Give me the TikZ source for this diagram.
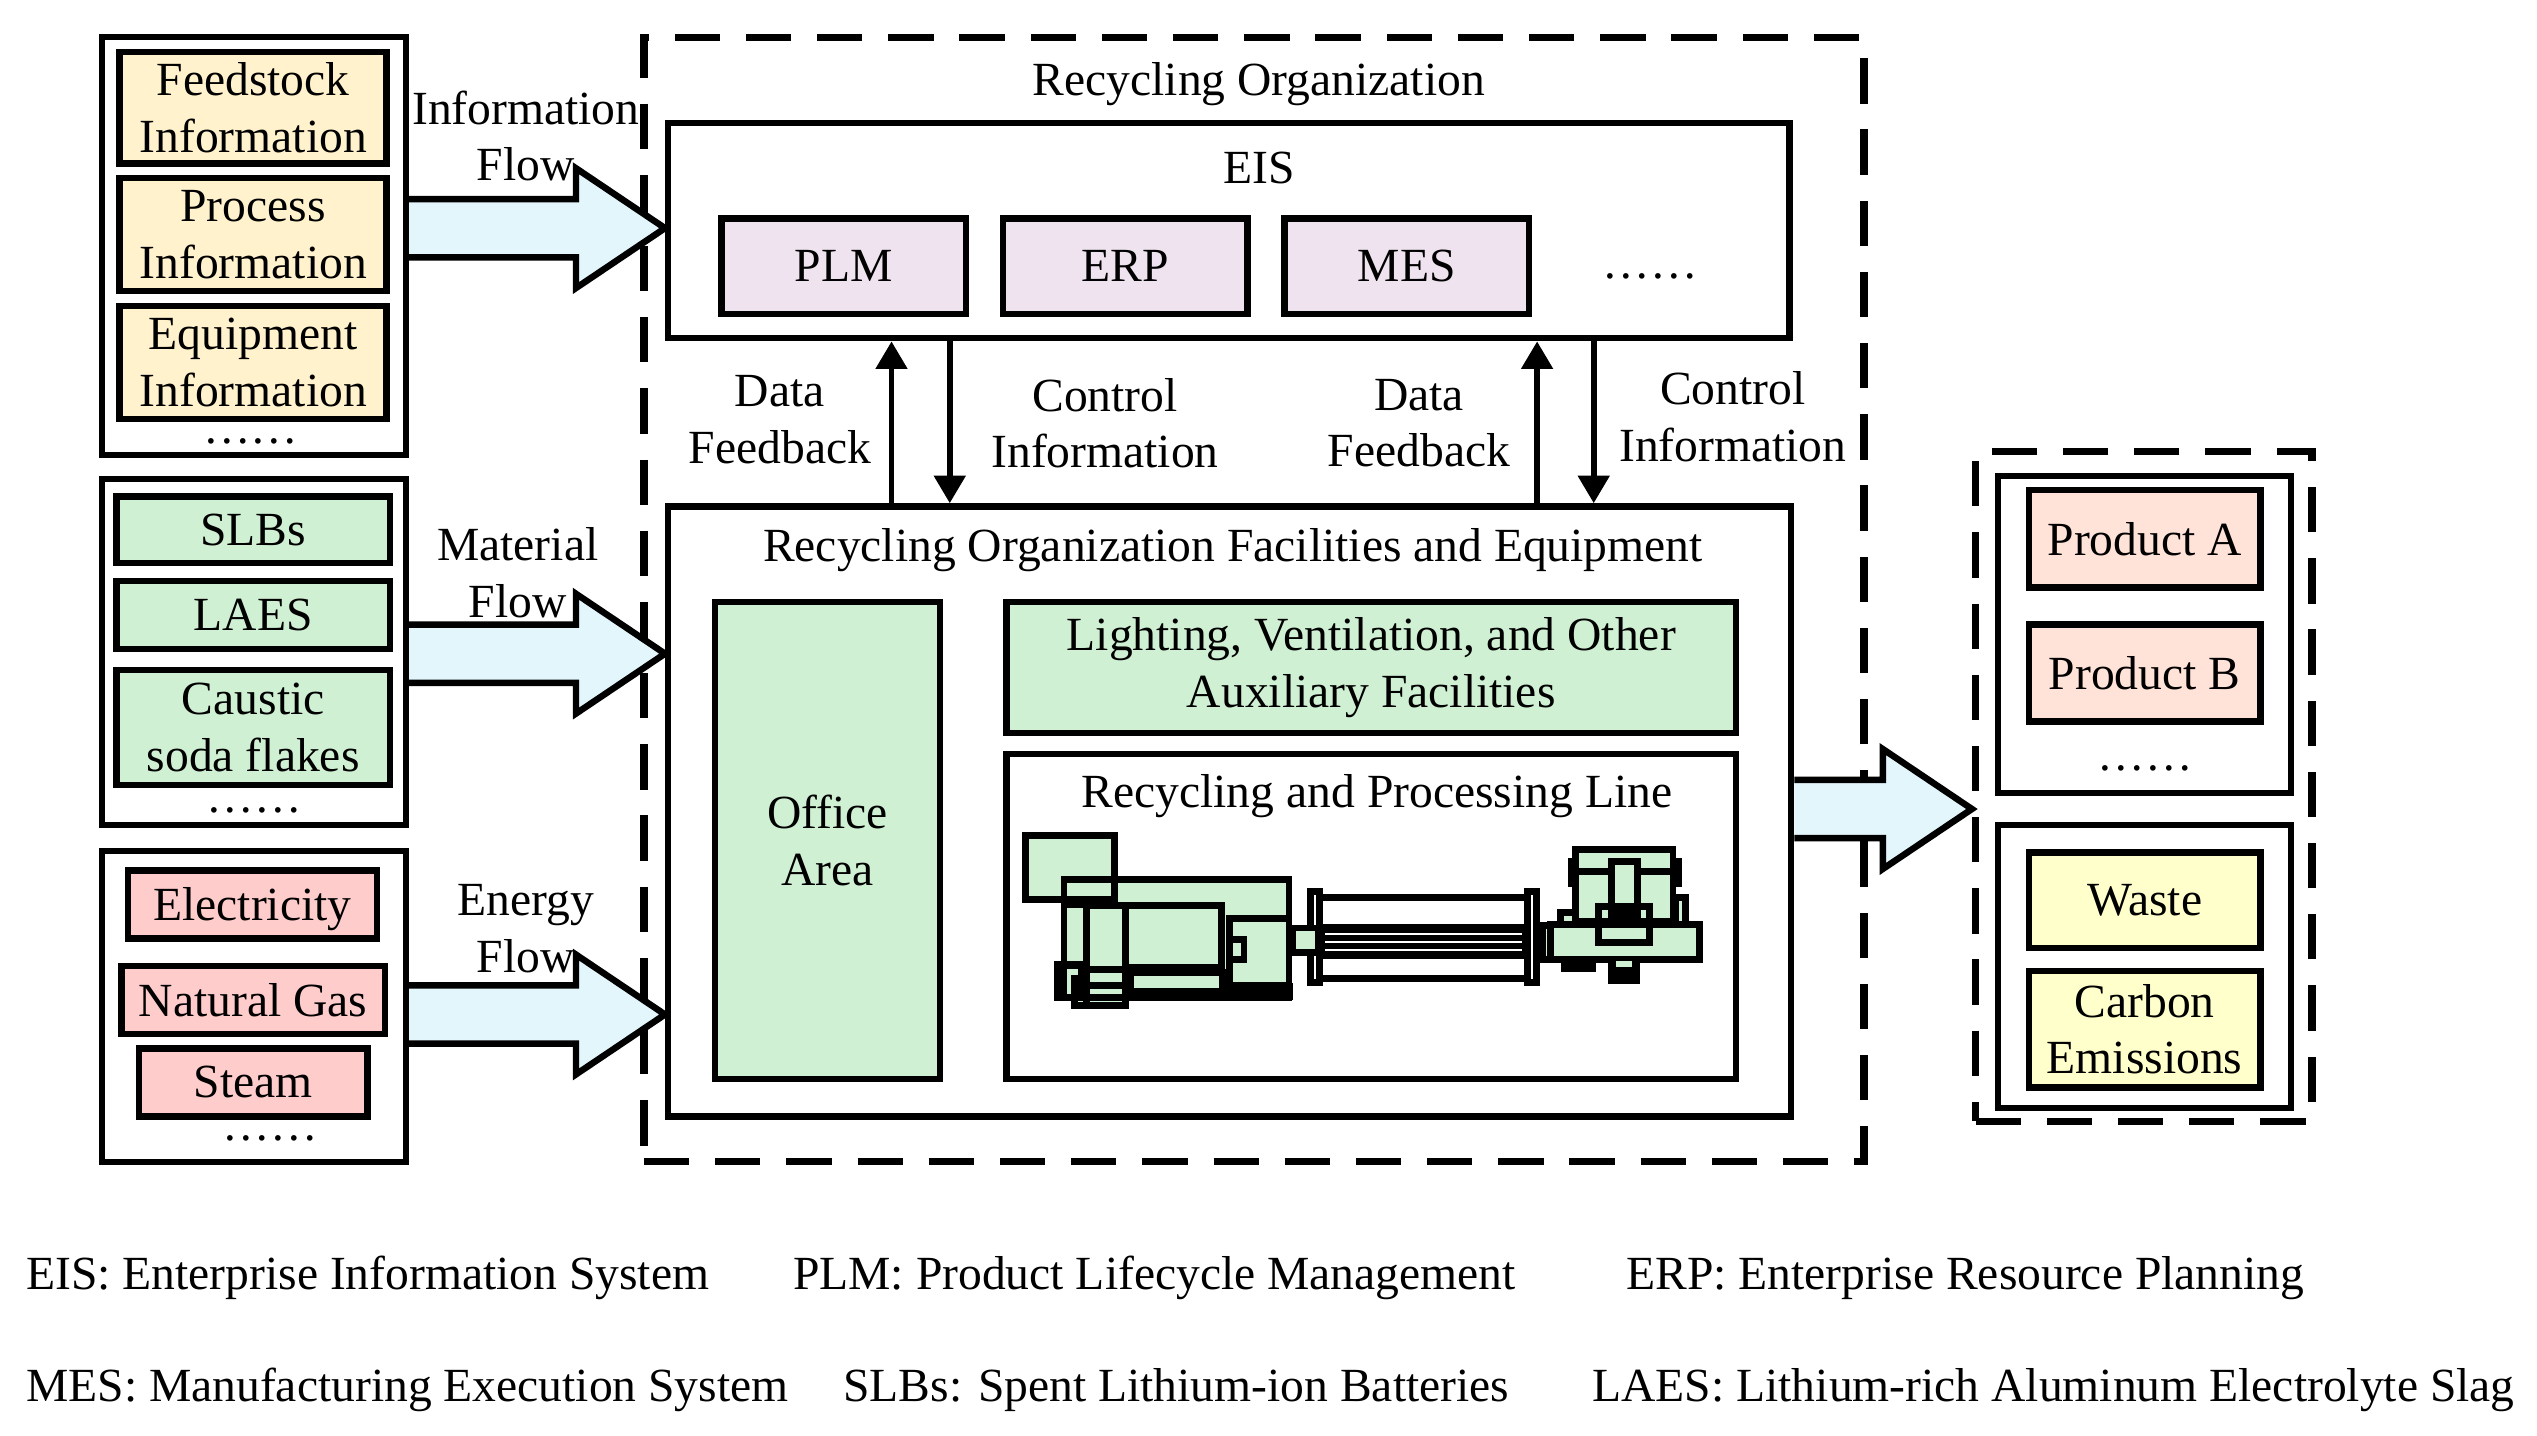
\documentclass[tikz,border=0pt]{standalone}
\usepackage{fontspec}
\setmainfont{Liberation Serif}
\usetikzlibrary{arrows.meta,calc}
\definecolor{infoY}{HTML}{FFF2CC}
\definecolor{matG}{HTML}{CFF0D2}
\definecolor{enP}{HTML}{FFCCCC}
\definecolor{sysP}{HTML}{EEE3EE}
\definecolor{prodP}{HTML}{FFE3D8}
\definecolor{wasteY}{HTML}{FFFFCC}
\definecolor{arrC}{HTML}{E3F6FC}
\newcommand\fatarr[2]{%
  \fill[arrC] ($(#1)+(0,-18)$) -- ($(#2)+(-55,-18)$) -- ($(#2)+(-55,-37)$) -- (#2) -- ($(#2)+(-55,37)$) -- ($(#2)+(-55,18)$) -- ($(#1)+(0,18)$) -- cycle;
  \draw[fatline] ($(#1)+(0,-18)$) -- ($(#2)+(-55,-18)$) -- ($(#2)+(-55,-37)$) -- (#2) -- ($(#2)+(-55,37)$) -- ($(#2)+(-55,18)$) -- ($(#1)+(0,18)$);
}
\begin{document}
\begin{tikzpicture}[x=1pt,y=-1pt, font=\fontsize{29.4}{35}\selectfont,
  cont/.style={draw, line width=3.8pt, inner sep=0pt},
  ibox/.style={draw, line width=4pt, inner sep=0pt, align=center},
  lbl/.style={align=center, inner sep=0pt},
  dotsty/.style={inner sep=0pt, anchor=base, text height=6pt, text depth=0pt},
  leg/.style={anchor=base west, inner sep=0pt},
  dashbox/.style={draw, line width=4.5pt, dash pattern=on 28pt off 16pt, inner sep=0pt},
  fatline/.style={line width=4pt, line join=miter, miter limit=10},
  varr/.style={line width=3.5pt, -{Triangle[length=17pt,width=19pt]}},
  mach/.style={line width=4.2pt, line join=miter},
]
\useasboundingbox (0,0) rectangle (1568,887);

% ---------- left input groups ----------
\node[cont, minimum width=188pt, minimum height=258pt] (g1) at (157,152) {};
\node[ibox, fill=infoY, minimum width=165pt, minimum height=69pt] (feed) at (156.5,66.5) {Feedstock\\Information};
\node[ibox, fill=infoY, minimum width=165pt, minimum height=70pt] (proc) at (156.5,145) {Process\\Information};
\node[ibox, fill=infoY, minimum width=165pt, minimum height=70pt] (equip) at (156.5,224) {Equipment\\Information};
\node[dotsty] (d1) at (155,274) {……};

\node[cont, minimum width=188pt, minimum height=214pt] (g2) at (157,403) {};
\node[ibox, fill=matG, minimum width=169pt, minimum height=41pt] (slbs) at (156.5,327.5) {SLBs};
\node[ibox, fill=matG, minimum width=169pt, minimum height=42pt] (laes) at (156.5,380) {LAES};
\node[ibox, fill=matG, minimum width=169pt, minimum height=71pt] (caus) at (156.5,449.5) {Caustic\\soda flakes};
\node[dotsty] (d2) at (157,502) {……};

\node[cont, minimum width=188pt, minimum height=192pt] (g3) at (157,622) {};
\node[ibox, fill=enP, minimum width=154pt, minimum height=42pt, text depth=0pt] (elec) at (156,559) {Electricity};
\node[ibox, fill=enP, minimum width=163pt, minimum height=42pt] (gas) at (156.5,618) {Natural Gas};
\node[ibox, fill=enP, minimum width=141pt, minimum height=42pt] (steam) at (156.5,669) {Steam};
\node[dotsty] (d3) at (167,705) {……};

% ---------- recycling organization ----------
\node[dashbox, minimum width=754pt, minimum height=695pt] (org) at (775,370.5) {};
\node[lbl] (orgt) at (778,52) {Recycling Organization};

\node[ibox, minimum width=693pt, minimum height=133pt] (eis) at (759.5,142.5) {};
\node[lbl] (eist) at (778,104) {EIS};
\node[ibox, fill=sysP, minimum width=151pt, minimum height=59pt] (plm) at (521.5,164.5) {PLM};
\node[ibox, fill=sysP, minimum width=151pt, minimum height=59pt] (erp) at (695.5,164.5) {ERP};
\node[ibox, fill=sysP, minimum width=151pt, minimum height=59pt] (mes) at (869.5,164.5) {MES};
\node[dotsty] (d4) at (1020,172) {……};

\node[ibox, minimum width=694pt, minimum height=377pt] (fac) at (760,501.5) {};
\node[lbl] (fact) at (762,340) {Recycling Organization Facilities and Equipment};
\node[ibox, fill=matG, minimum width=139pt, minimum height=295pt] (office) at (511.5,519.5) {Office\\Area};
\node[ibox, fill=matG, minimum width=451pt, minimum height=81pt] (light) at (847.5,412.5) {Lighting, Ventilation, and Other\\Auxiliary Facilities};
\node[ibox, minimum width=451pt, minimum height=201pt] (line) at (847.5,566.5) {};
\node[lbl] (linet) at (851,492) {Recycling and Processing Line};

% vertical arrows
\coordinate (c1) at (551,0);
\coordinate (c2) at (587,0);
\coordinate (c3) at (950,0);
\coordinate (c4) at (985,0);
\draw[varr] (fac.north -| c1) -- (eis.south -| c1);
\draw[varr] (eis.south -| c2) -- (fac.north -| c2);
\draw[varr] (fac.north -| c3) -- (eis.south -| c3);
\draw[varr] (eis.south -| c4) -- (fac.north -| c4);
\node[lbl] (df1) at (482,259.5) {Data\\Feedback};
\node[lbl] (ci1) at (683,261.5) {Control\\Information};
\node[lbl] (df2) at (877,261.5) {Data\\Feedback};
\node[lbl] (ci2) at (1071,257.5) {Control\\Information};

% ---------- machine drawing ----------
\begin{scope}[shift={(621.2,504.3)}, x=0.2867pt, y=-0.205pt]
  \draw[mach, fill=white] (668,246) rectangle (1130,490);
  \fill[black] (676,326) rectangle (1162,430);
  \foreach \yy in {356,379,403} \draw[white, line width=1.3pt] (690,\yy) -- (1115,\yy);
  \draw[mach, fill=white] (658,228) rectangle (678,502);
  \draw[mach, fill=white] (1126,228) rectangle (1146,502);
  \foreach \a/\b/\c/\d in {44/60/236/252, 127/192/612/548, 127/268/176/452, 176/271/259/572, 259/271/466/458, 484/310/612/510, 484/372/515/432, 270/472/468/530, 113/448/165/548, 150/490/176/572, 620/338/676/412, 1158/330/1176/432, 1176/327/1497/432, 1230/102/1440/318, 1198/292/1230/327, 1446/245/1466/327, 1308/137/1364/300, 1280/272/1390/382, 1313/282/1360/310}
    \fill[matG] (\a,\b) rectangle (\c,\d);
  \foreach \a/\b/\c/\d in {44/60/236/252, 127/192/612/548, 127/268/176/452, 176/271/259/572, 259/271/466/458, 484/310/612/510, 484/372/515/432, 270/472/468/530, 113/448/165/548, 150/490/176/572, 620/338/676/412, 1158/330/1176/432, 1176/327/1497/432, 1230/102/1440/318, 1198/292/1230/327, 1446/245/1466/327, 1308/137/1364/300, 1280/272/1390/382, 1313/282/1360/310}
    \draw[mach] (\a,\b) rectangle (\c,\d);
  \fill[black] (468,505) rectangle (620,555);
  \draw[mach] (176,462) -- (259,462);
  \draw[mach] (176,512) -- (259,512);
  \draw[mach] (1230,168) -- (1308,168);
  \draw[mach] (1364,168) -- (1440,168);
  \draw[mach] (1220,128) -- (1220,215);
  \draw[mach] (1452,128) -- (1452,215);
  \fill[black] (1198,430) rectangle (1273,470);
  \fill[black] (1300,430) rectangle (1368,507);
  \fill[matG] (1316,438) rectangle (1352,456);
\end{scope}

% ---------- output ----------
\node[dashbox, minimum width=208pt, minimum height=414pt] (out) at (1325,486) {};
\node[cont, minimum width=181pt, minimum height=196pt] (prods) at (1325.5,392) {};
\node[ibox, fill=prodP, minimum width=143pt, minimum height=60pt] (pa) at (1325.5,333) {Product A};
\node[ibox, fill=prodP, minimum width=143pt, minimum height=60pt] (pb) at (1325.5,416) {Product B};
\node[dotsty] (d5) at (1326,476) {……};
\node[cont, minimum width=181pt, minimum height=175pt] (wastes) at (1325.5,597.5) {};
\node[ibox, fill=wasteY, minimum width=143pt, minimum height=59pt] (waste) at (1325.5,556.5) {Waste};
\node[ibox, fill=wasteY, minimum width=143pt, minimum height=72pt] (carbon) at (1325.5,636) {Carbon\\Emissions};

% ---------- flow arrows ----------
\coordinate (yInfo) at (0,141);
\coordinate (yMat) at (0,404);
\coordinate (yEn) at (0,627);
\coordinate (yOut) at (0,500);
\fatarr{g1.east |- yInfo}{eis.west |- yInfo}
\fatarr{g2.east |- yMat}{fac.west |- yMat}
\fatarr{g3.east |- yEn}{fac.west |- yEn}
\fatarr{fac.east |- yOut}{out.west |- yOut}
\node[lbl] (lInfo) at (325,84) {Information\\Flow};
\node[lbl] (lMat) at (320,354) {Material\\Flow};
\node[lbl] (lEn) at (325,574) {Energy\\Flow};

% ---------- legend ----------
\node[leg] (l1) at (16,797) {EIS: Enterprise Information System};
\node[leg] (l2) at (490,797) {PLM: Product Lifecycle Management};
\node[leg] (l3) at (1005,797) {ERP: Enterprise Resource Planning};
\node[leg] (l4) at (16,866) {MES: Manufacturing Execution System};
\node[leg] (l5) at (521,866) {SLBs: Spent Lithium-ion Batteries};
\node[leg] (l6) at (984,866) {LAES: Lithium-rich Aluminum Electrolyte Slag};
\end{tikzpicture}
\end{document}
